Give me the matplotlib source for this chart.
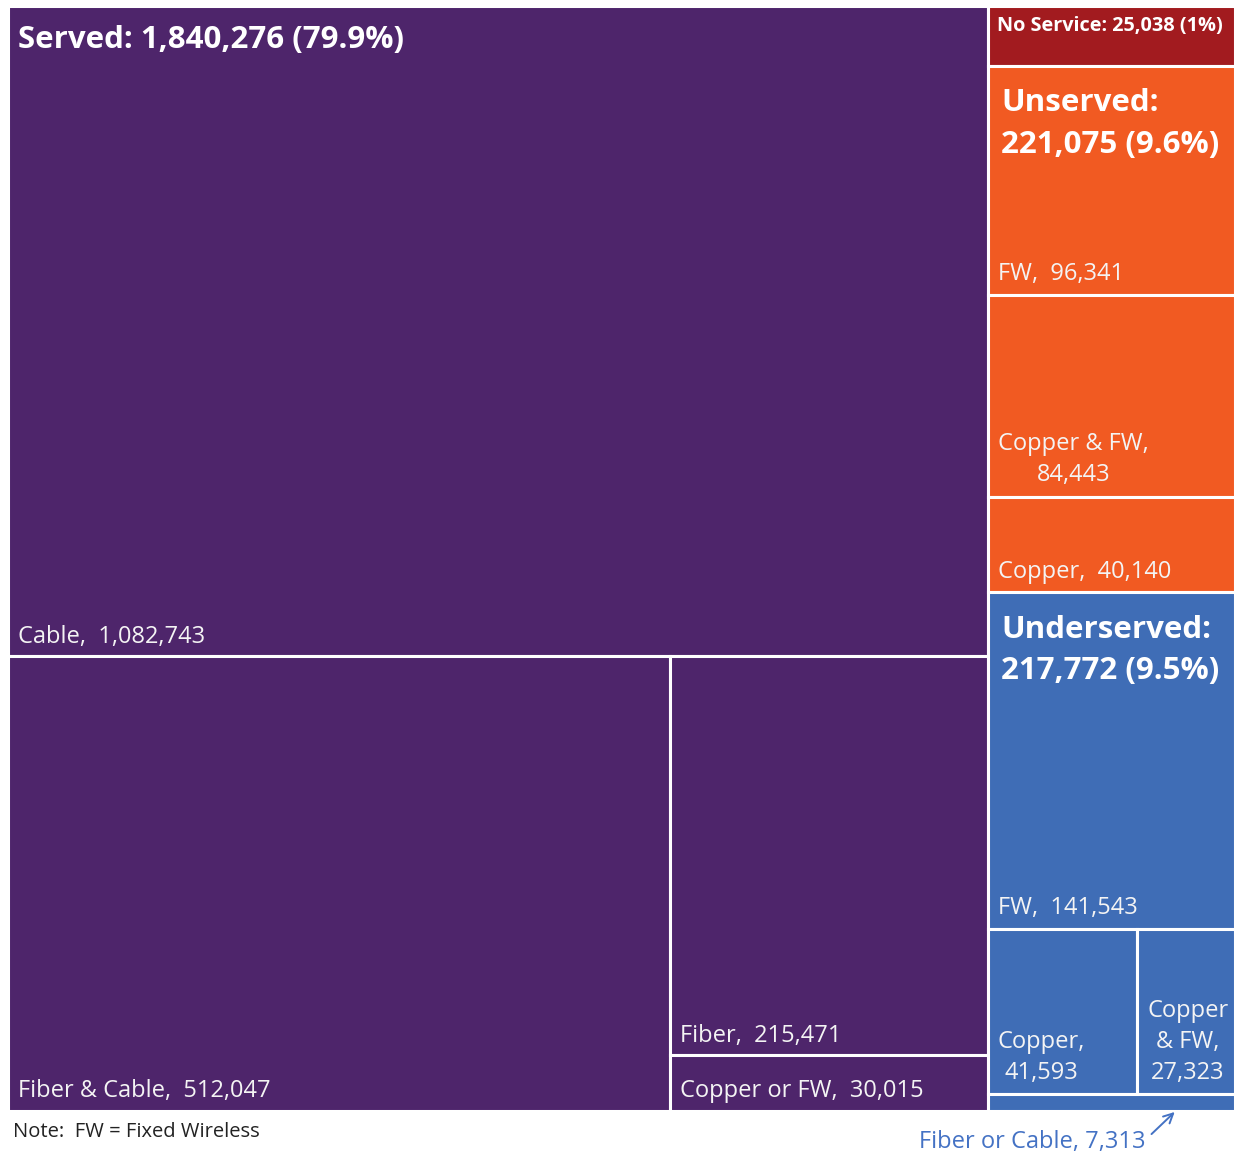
import matplotlib
matplotlib.use("Agg")
import matplotlib.pyplot as plt
from matplotlib.patches import Rectangle

plt.rcParams['font.family'] = ['Open Sans', 'DejaVu Sans']

# ---- data ----
group_names = ["Served", "No Service", "Unserved", "Underserved"]
group_totals = [1840276, 25038, 221075, 217772]
group_pcts = ["79.9%", "1%", "9.6%", "9.5%"]
group_colors = ["#4E256B", "#A21B1F", "#F15A22", "#3F6DB6"]

served_techs = ["Cable", "Fiber & Cable", "Fiber", "Copper or FW"]
served_vals = [1082743, 512047, 215471, 30015]

unserved_techs = ["FW", "Copper & FW", "Copper"]
unserved_vals = [96341, 84443, 40140]

underserved_techs = ["FW", "Copper", "Copper & FW", "Fiber or Cable"]
underserved_vals = [141543, 41593, 27323, 7313]

note_text = "Note:  FW = Fixed Wireless"

# ---- layout (slice-and-dice from values) ----
def total(node):
    if isinstance(node, dict):
        return node["value"]
    return sum(total(c) for c in node[1])

def layout(node, x, y, w, h, out):
    if isinstance(node, dict):
        out.append((node, x, y, w, h))
        return
    direction, children = node
    s = sum(total(c) for c in children)
    pos = 0.0
    for c in children:
        frac = total(c) / s
        if direction == 'h':
            layout(c, x + pos * w, y, w * frac, h, out)
        else:
            layout(c, x, y + pos * h, w, h * frac, out)
        pos += frac

def leaf(name, value, group):
    return {"name": name, "value": value, "group": group}

served_tree = ('v', [leaf(served_techs[0], served_vals[0], 0),
                     ('h', [leaf(served_techs[1], served_vals[1], 0),
                            ('v', [leaf(served_techs[2], served_vals[2], 0),
                                   leaf(served_techs[3], served_vals[3], 0)])])])
unserved_tree = ('v', [leaf(t, v, 2) for t, v in zip(unserved_techs, unserved_vals)])
underserved_tree = ('v', [leaf(underserved_techs[0], underserved_vals[0], 3),
                          ('v', [('h', [leaf(underserved_techs[1], underserved_vals[1], 3),
                                        leaf(underserved_techs[2], underserved_vals[2], 3)]),
                                 leaf(underserved_techs[3], underserved_vals[3], 3)])])

groups_tree = ('h', [leaf("Served", group_totals[0], 0),
                     ('v', [leaf("No Service", group_totals[1], 1),
                            leaf("Unserved", group_totals[2], 2),
                            leaf("Underserved", group_totals[3], 3)])])
group_rects = []
layout(groups_tree, 0, 0, 1, 1, group_rects)
sub_trees = {0: served_tree, 2: unserved_tree, 3: underserved_tree}

cells = []
for node, x, y, w, h in group_rects:
    g = node["group"]
    if g in sub_trees:
        layout(sub_trees[g], x, y, w, h, cells)
    else:
        cells.append((node, x, y, w, h))

# ---- figure ----
W, H = 1235, 1152
fig = plt.figure(figsize=(W / 100, H / 100), dpi=100)
fig.patch.set_facecolor("white")
left, top, right, bottom = 8, 6, 1235, 1111
ax = fig.add_axes([left / W, 1 - bottom / H, (right - left) / W, (bottom - top) / H])
ax.set_xlim(0, 1)
ax.set_ylim(1, 0)
ax.axis("off")

txt = "#F4F4F4"
for node, x, y, w, h in cells:
    ax.add_patch(Rectangle((x, y), w, h, facecolor=group_colors[node["group"]],
                           edgecolor="white", linewidth=2.2, clip_on=False))

rect_of = {}
for node, x, y, w, h in cells:
    rect_of[(node["group"], node["name"])] = (x, y, w, h)
grect = {node["group"]: (x, y, w, h) for node, x, y, w, h in group_rects}

def fmt(v):
    return f"{v:,}"

LS = 17

def bl(key, text, dx=10, dy=14, size=LS, ha='left', ma='left', xc=None):
    x, y, w, h = rect_of[key]
    xx = x if xc is None else x + w / 2
    ax.annotate(text, (xx, y + h), xytext=(dx, dy), textcoords='offset pixels',
                ha=ha, va='baseline', multialignment=ma, color=txt, fontsize=size,
                linespacing=1.39)

HS = 22.5
# group headers
x, y, w, h = grect[0]
ax.annotate(f"{group_names[0]}: {fmt(group_totals[0])} ({group_pcts[0]})", (x, y),
            xytext=(10, -42), textcoords='offset pixels', ha='left', va='baseline',
            color="white", fontsize=HS, fontweight='bold')
x, y, w, h = grect[1]
ax.annotate(f"{group_names[1]}: {fmt(group_totals[1])} ({group_pcts[1]})", (x, y),
            xytext=(9, -25), textcoords='offset pixels', ha='left', va='baseline',
            color="white", fontsize=14.3, fontweight='bold')
for g in (2, 3):
    x, y, w, h = grect[g]
    ax.annotate(f"{group_names[g]}:\n{fmt(group_totals[g])} ({group_pcts[g]})", (x, y),
                xytext=(13, -87), textcoords='offset pixels', ha='left', va='baseline',
                color="white", fontsize=HS, fontweight='bold', linespacing=1.5)

# leaf labels
bl((0, "Cable"), f"Cable,  {fmt(served_vals[0])}", dy=13)
bl((0, "Fiber & Cable"), f"Fiber & Cable,  {fmt(served_vals[1])}")
bl((0, "Fiber"), f"Fiber,  {fmt(served_vals[2])}", dy=13)
bl((0, "Copper or FW"), f"Copper or FW,  {fmt(served_vals[3])}")
bl((2, "FW"), f"FW,  {fmt(unserved_vals[0])}", dy=15)
bl((2, "Copper & FW"), f"Copper & FW,\n{fmt(unserved_vals[1])}", ma='center', dy=16)
bl((2, "Copper"), f"Copper,  {fmt(unserved_vals[2])}")
bl((3, "FW"), f"FW,  {fmt(underserved_vals[0])}", dy=15)
bl((3, "Copper"), f"Copper,\n{fmt(underserved_vals[1])}", ma='center', dy=15)
bl((3, "Copper & FW"), f"Copper\n& FW,\n{fmt(underserved_vals[2])}", dx=2, dy=15,
   ha='center', ma='center', xc=True)

# callout for the smallest cell
x, y, w, h = rect_of[(3, "Fiber or Cable")]
ax.annotate(f"{underserved_techs[3]}, {fmt(underserved_vals[3])}", xy=(x + w * 0.76, y + h),
            xytext=(-30, -37), textcoords='offset pixels', ha='right', va='baseline',
            color="#4472C4", fontsize=17,
            arrowprops=dict(arrowstyle='->', color="#4472C4", lw=1.4,
                            shrinkA=3, shrinkB=1, relpos=(1.0, 0.6)),
            annotation_clip=False)

fig.text(13 / W, 1 - 1137 / H, note_text, ha='left', va='baseline',
         fontsize=14.5, color="#222222")

fig.savefig("out.png", dpi=100, facecolor="white")
